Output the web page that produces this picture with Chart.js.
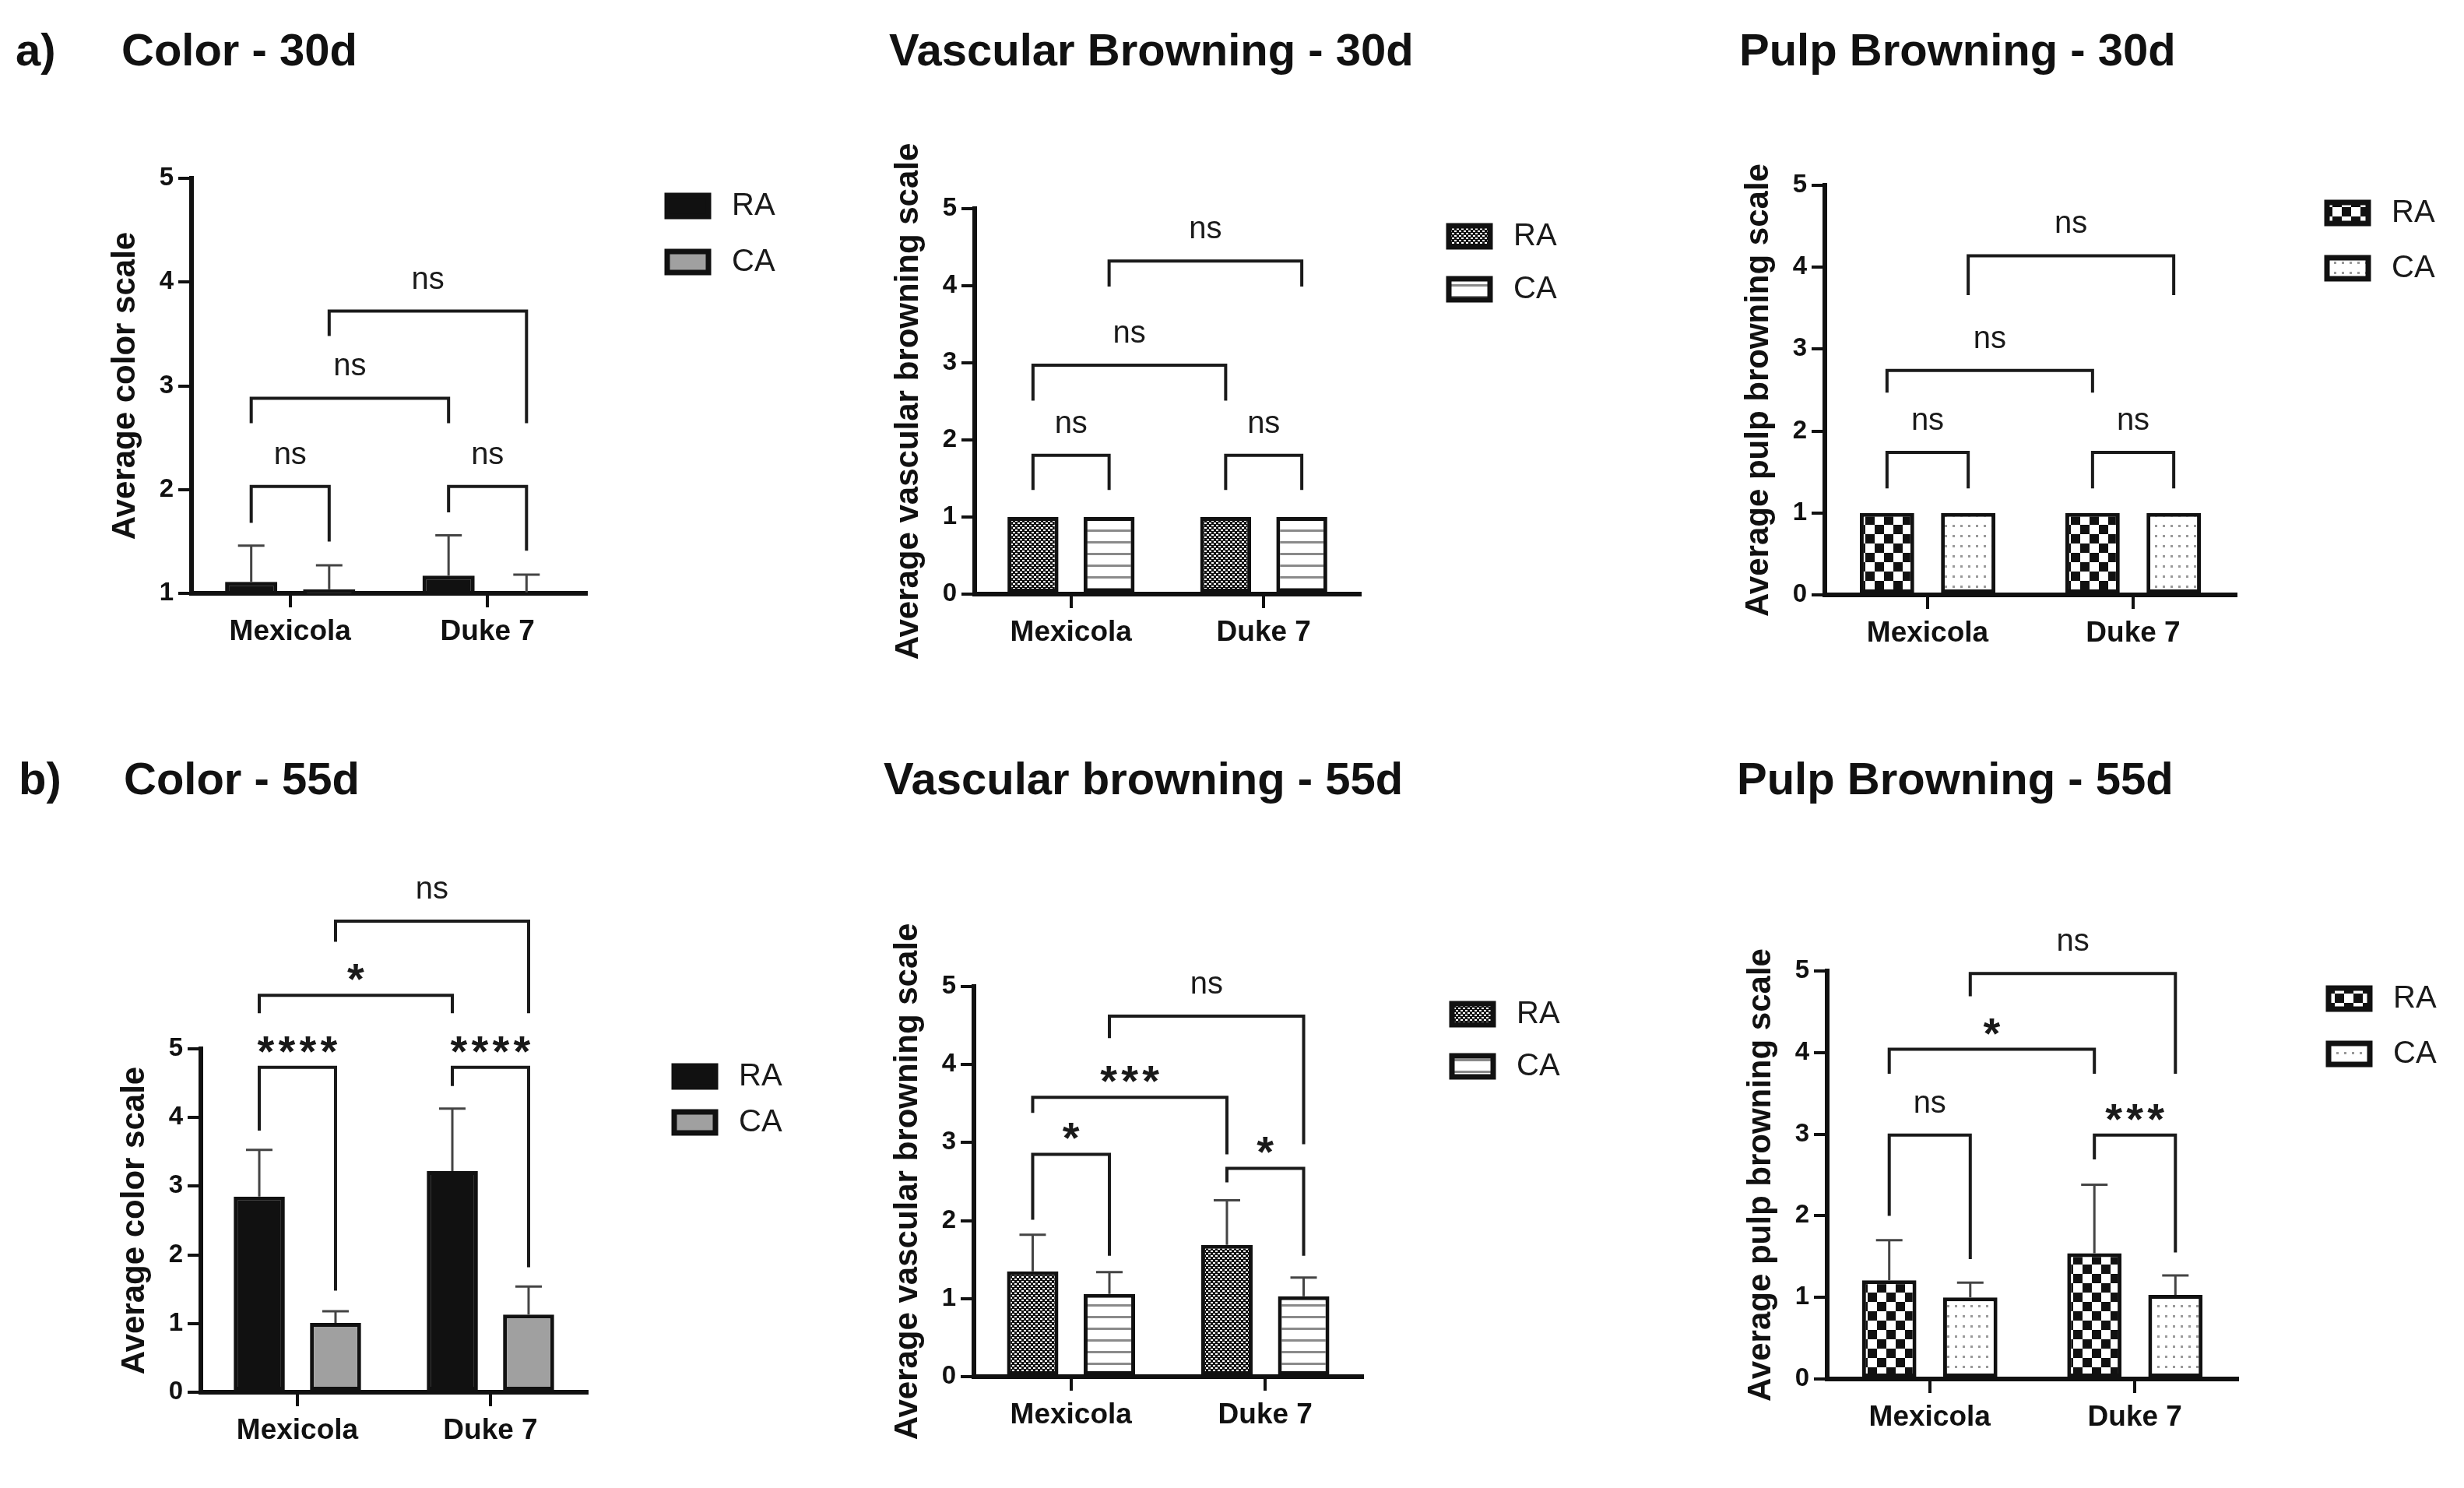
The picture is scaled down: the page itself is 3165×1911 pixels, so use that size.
<!DOCTYPE html>
<html>
<head>
<meta charset="utf-8">
<script src="https://cdn.jsdelivr.net/npm/chart.js@4.4.1/dist/chart.umd.min.js"></script>
<style>
  html, body { margin: 0; padding: 0; background: #fff; }
  #page { position: relative; width: 3165px; height: 1911px; overflow: hidden; background: #fff; }
  #page canvas { position: absolute; }
  .ttl { position: absolute; font-family: 'Liberation Sans', Arial, sans-serif; font-weight: bold;
         font-size: 58px; line-height: 58px; color: #111; white-space: nowrap; }
</style>
</head>
<body>
<div id="page">
  <div class="ttl" style="left:20px;top:35px">a)</div>
  <div class="ttl" style="left:156px;top:35px">Color - 30d</div>
  <div class="ttl" style="left:1142px;top:35px">Vascular Browning - 30d</div>
  <div class="ttl" style="left:2234px;top:35px">Pulp Browning - 30d</div>
  <div class="ttl" style="left:24px;top:971px">b)</div>
  <div class="ttl" style="left:159px;top:971px">Color - 55d</div>
  <div class="ttl" style="left:1135px;top:971px">Vascular browning - 55d</div>
  <div class="ttl" style="left:2231px;top:971px">Pulp Browning - 55d</div>
</div>
<script>
// categories and series
var categories = ['Mexicola', 'Duke 7'];
var seriesNames = ['RA', 'CA'];

// means and SD
var color30RA = [1.11, 1.17];
var color30CA = [1.04, 1.01];
var color30RAsd = [0.35, 0.39];
var color30CAsd = [0.23, 0.17];

var vasc30RA = [1.0, 1.0];
var vasc30CA = [1.0, 1.0];
var vasc30RAsd = [0, 0];
var vasc30CAsd = [0, 0];

var pulp30RA = [1.0, 1.0];
var pulp30CA = [1.0, 1.0];
var pulp30RAsd = [0, 0];
var pulp30CAsd = [0, 0];

var color55RA = [2.85, 3.22];
var color55CA = [1.01, 1.13];
var color55RAsd = [0.68, 0.91];
var color55CAsd = [0.17, 0.41];

var vasc55RA = [1.35, 1.69];
var vasc55CA = [1.06, 1.03];
var vasc55RAsd = [0.47, 0.57];
var vasc55CAsd = [0.28, 0.24];

var pulp55RA = [1.21, 1.54];
var pulp55CA = [1.00, 1.03];
var pulp55RAsd = [0.49, 0.84];
var pulp55CAsd = [0.18, 0.24];

// significance brackets: [bar a, bar b, top, leg a end, leg b end, label]
// bars: 0 = Mexicola RA, 1 = Mexicola CA, 2 = Duke 7 RA, 3 = Duke 7 CA
var color30Brackets = [[0, 1, 2.03, 1.68, 1.50, 'ns'], [2, 3, 2.03, 1.78, 1.41, 'ns'], [0, 2, 2.88, 2.64, 2.64, 'ns'], [1, 3, 3.72, 3.48, 2.64, 'ns']];
var vasc30Brackets = [[0, 1, 1.80, 1.35, 1.35, 'ns'], [2, 3, 1.80, 1.35, 1.35, 'ns'], [0, 2, 2.97, 2.51, 2.51, 'ns'], [1, 3, 4.32, 3.99, 3.99, 'ns']];
var pulp30Brackets = [[0, 1, 1.74, 1.30, 1.30, 'ns'], [2, 3, 1.74, 1.30, 1.30, 'ns'], [0, 2, 2.74, 2.47, 2.47, 'ns'], [1, 3, 4.14, 3.66, 3.66, 'ns']];
var color55Brackets = [[0, 1, 4.73, 3.81, 1.48, '****'], [2, 3, 4.73, 4.46, 1.82, '****'], [0, 2, 5.78, 5.52, 5.52, '*'], [1, 3, 6.86, 6.56, 5.52, 'ns']];
var vasc55Brackets = [[0, 1, 2.85, 2.01, 1.55, '*'], [2, 3, 2.67, 2.49, 1.55, '*'], [0, 2, 3.58, 3.38, 2.85, '***'], [1, 3, 4.62, 4.34, 2.98, 'ns']];
var pulp55Brackets = [[0, 1, 2.99, 2.00, 1.47, 'ns'], [2, 3, 2.99, 2.69, 1.55, '***'], [0, 2, 4.04, 3.74, 3.74, '*'], [1, 3, 4.97, 4.69, 3.74, 'ns']];

var FONT = "'Liberation Sans', Arial, sans-serif";
var INK = '#111';

// fill patterns
function makePattern(w, h, draw) {
  var c = document.createElement('canvas');
  c.width = w; c.height = h;
  var g = c.getContext('2d');
  draw(g);
  return g.createPattern(c, 'repeat');
}
var denseFill = makePattern(6, 6, function (g) {
  g.fillStyle = '#111'; g.fillRect(0, 0, 6, 6);
  g.fillStyle = '#fff'; g.fillRect(0, 0, 3, 2); g.fillRect(3, 3, 3, 2);
});
var stripeFill = makePattern(8, 15, function (g) {
  g.fillStyle = '#fff'; g.fillRect(0, 0, 8, 15);
  g.fillStyle = '#8a8a8a'; g.fillRect(0, 0, 8, 3);
});
var checkFill = makePattern(24, 24, function (g) {
  g.fillStyle = '#fff'; g.fillRect(0, 0, 24, 24);
  g.fillStyle = '#111'; g.fillRect(0, 0, 12, 12); g.fillRect(12, 12, 12, 12);
});
var dotFill = makePattern(10, 13, function (g) {
  g.fillStyle = '#fff'; g.fillRect(0, 0, 10, 13);
  g.fillStyle = '#999'; g.fillRect(4, 5, 3, 3);
});

var panels = [
  { ra: color30RA, ca: color30CA, raSd: color30RAsd, caSd: color30CAsd, brackets: color30Brackets,
    yTitle: 'Average color scale', yMin: 1, fills: ['#111', '#a0a0a0'],
    L: 246, R: 753, T: 229, B: 762, rowTop: 110, legX: 104, legGap: 72 },
  { ra: vasc30RA, ca: vasc30CA, raSd: vasc30RAsd, caSd: vasc30CAsd, brackets: vasc30Brackets,
    yTitle: 'Average vascular browning scale', yMin: 0, fills: [denseFill, stripeFill],
    L: 1252, R: 1747, T: 268, B: 763, rowTop: 110, legX: 114, legGap: 68 },
  { ra: pulp30RA, ca: pulp30CA, raSd: pulp30RAsd, caSd: pulp30CAsd, brackets: pulp30Brackets,
    yTitle: 'Average pulp browning scale', yMin: 0, fills: [checkFill, dotFill],
    L: 2344, R: 2872, T: 238, B: 764, rowTop: 110, legX: 117, legGap: 71 },
  { ra: color55RA, ca: color55CA, raSd: color55RAsd, caSd: color55CAsd, brackets: color55Brackets,
    yTitle: 'Average color scale', yMin: 0, fills: ['#111', '#a0a0a0'],
    L: 258, R: 754, T: 1347, B: 1788, rowTop: 1060, legX: 112, legGap: 59 },
  { ra: vasc55RA, ca: vasc55CA, raSd: vasc55RAsd, caSd: vasc55CAsd, brackets: vasc55Brackets,
    yTitle: 'Average vascular browning scale', yMin: 0, fills: [denseFill, stripeFill],
    L: 1251, R: 1750, T: 1267, B: 1768, rowTop: 1060, legX: 115, legGap: 67 },
  { ra: pulp55RA, ca: pulp55CA, raSd: pulp55RAsd, caSd: pulp55CAsd, brackets: pulp55Brackets,
    yTitle: 'Average pulp browning scale', yMin: 0, fills: [checkFill, dotFill],
    L: 2347, R: 2874, T: 1247, B: 1771, rowTop: 1060, legX: 117, legGap: 71 }
];

var Y_AXIS_W = 140, X_AXIS_H = 90, RIGHT_EXTRA = 285;

// mean + SD whiskers
var errorBars = {
  id: 'errorBars',
  afterDatasetsDraw: function (chart) {
    var ctx = chart.ctx, y = chart.scales.y;
    ctx.save();
    ctx.strokeStyle = '#444';
    ctx.lineWidth = 3;
    chart.data.datasets.forEach(function (ds, i) {
      chart.getDatasetMeta(i).data.forEach(function (bar, j) {
        var sd = ds.sd[j];
        if (!sd) return;
        var top = y.getPixelForValue(ds.data[j] + sd);
        ctx.beginPath();
        ctx.moveTo(bar.x, bar.y);
        ctx.lineTo(bar.x, top);
        ctx.moveTo(bar.x - 17, top);
        ctx.lineTo(bar.x + 17, top);
        ctx.stroke();
      });
    });
    ctx.restore();
  }
};

function barX(chart, g) {
  return chart.getDatasetMeta(g % 2).data[Math.floor(g / 2)].x;
}

// comparison brackets
var brackets = {
  id: 'brackets',
  afterDraw: function (chart) {
    var ctx = chart.ctx, y = chart.scales.y;
    var list = chart.options.plugins.brackets.list;
    ctx.save();
    ctx.strokeStyle = '#1a1a1a';
    ctx.fillStyle = '#1a1a1a';
    ctx.lineWidth = 4;
    ctx.lineJoin = 'miter';
    ctx.textAlign = 'center';
    ctx.textBaseline = 'alphabetic';
    list.forEach(function (b) {
      var x1 = barX(chart, b[0]), x2 = barX(chart, b[1]);
      var yt = y.getPixelForValue(b[2]);
      ctx.beginPath();
      ctx.moveTo(x1, y.getPixelForValue(b[3]));
      ctx.lineTo(x1, yt);
      ctx.lineTo(x2, yt);
      ctx.lineTo(x2, y.getPixelForValue(b[4]));
      ctx.stroke();
      var cx = (x1 + x2) / 2, label = b[5];
      if (label.indexOf('*') >= 0) {
        ctx.font = 'bold 56px ' + FONT;
        var n = label.length;
        for (var k = 0; k < n; k++) {
          ctx.fillText('*', cx + (k - (n - 1) / 2) * 27, yt - 2);
        }
      } else {
        ctx.font = '40px ' + FONT;
        ctx.fillText(label, cx, yt - 29);
      }
    });
    ctx.restore();
  }
};

// legend drawn beside the plot
var sideLegend = {
  id: 'sideLegend',
  afterDraw: function (chart) {
    var ctx = chart.ctx, area = chart.chartArea;
    var o = chart.options.plugins.sideLegend;
    ctx.save();
    chart.data.datasets.forEach(function (ds, i) {
      var x = area.right + o.x, cy = area.top + 35 + i * o.gap;
      ctx.fillStyle = ds.backgroundColor;
      ctx.fillRect(x, cy - 13, 53, 27);
      ctx.strokeStyle = INK;
      ctx.lineWidth = 7;
      ctx.strokeRect(x, cy - 13, 53, 27);
      ctx.fillStyle = '#1a1a1a';
      ctx.font = '40px ' + FONT;
      ctx.textAlign = 'left';
      ctx.textBaseline = 'middle';
      ctx.fillText(ds.label, x + 83, cy + 1);
    });
    ctx.restore();
  }
};

var page = document.getElementById('page');
panels.forEach(function (p) {
  var left = p.L - Y_AXIS_W;
  var width = p.R + RIGHT_EXTRA - left;
  var height = p.B + X_AXIS_H - p.rowTop;
  var cv = document.createElement('canvas');
  cv.width = width; cv.height = height;
  cv.style.left = left + 'px';
  cv.style.top = p.rowTop + 'px';
  cv.style.width = width + 'px';
  cv.style.height = height + 'px';
  page.appendChild(cv);

  new Chart(cv.getContext('2d'), {
    type: 'bar',
    data: {
      labels: categories,
      datasets: [
        { label: seriesNames[0], data: p.ra, sd: p.raSd, backgroundColor: p.fills[0],
          borderColor: INK, borderWidth: 5, borderSkipped: false },
        { label: seriesNames[1], data: p.ca, sd: p.caSd, backgroundColor: p.fills[1],
          borderColor: INK, borderWidth: 5, borderSkipped: false }
      ]
    },
    options: {
      responsive: false,
      animation: false,
      devicePixelRatio: 1,
      layout: { padding: { left: 0, top: p.T - p.rowTop, right: width - (p.R - left), bottom: 0 } },
      datasets: { bar: { categoryPercentage: 0.79, barPercentage: 0.67 } },
      plugins: {
        legend: { display: false },
        tooltip: { enabled: false },
        brackets: { list: p.brackets },
        sideLegend: { x: p.legX, gap: p.legGap }
      },
      scales: {
        x: {
          grid: { display: true, offset: false, drawOnChartArea: false, tickLength: 18,
                  lineWidth: 4, tickWidth: 4, tickColor: INK },
          border: { display: true, width: 6, color: INK },
          ticks: { color: INK, padding: 10, font: { family: FONT, weight: 'bold', size: 37 } },
          afterFit: function (s) { s.height = X_AXIS_H; }
        },
        y: {
          min: p.yMin, max: 5,
          ticks: { stepSize: 1, color: INK, padding: 6, font: { family: FONT, weight: 'bold', size: 33 } },
          grid: { display: true, drawOnChartArea: false, tickLength: 17, lineWidth: 4, tickWidth: 4, tickColor: INK },
          border: { display: true, width: 6, color: INK },
          title: { display: true, text: p.yTitle, color: INK, padding: { top: 30, bottom: 0 },
                   font: { family: FONT, weight: 'bold', size: 42 } },
          afterFit: function (s) { s.width = Y_AXIS_W; }
        }
      }
    },
    plugins: [errorBars, brackets, sideLegend]
  });
});
</script>
</body>
</html>
